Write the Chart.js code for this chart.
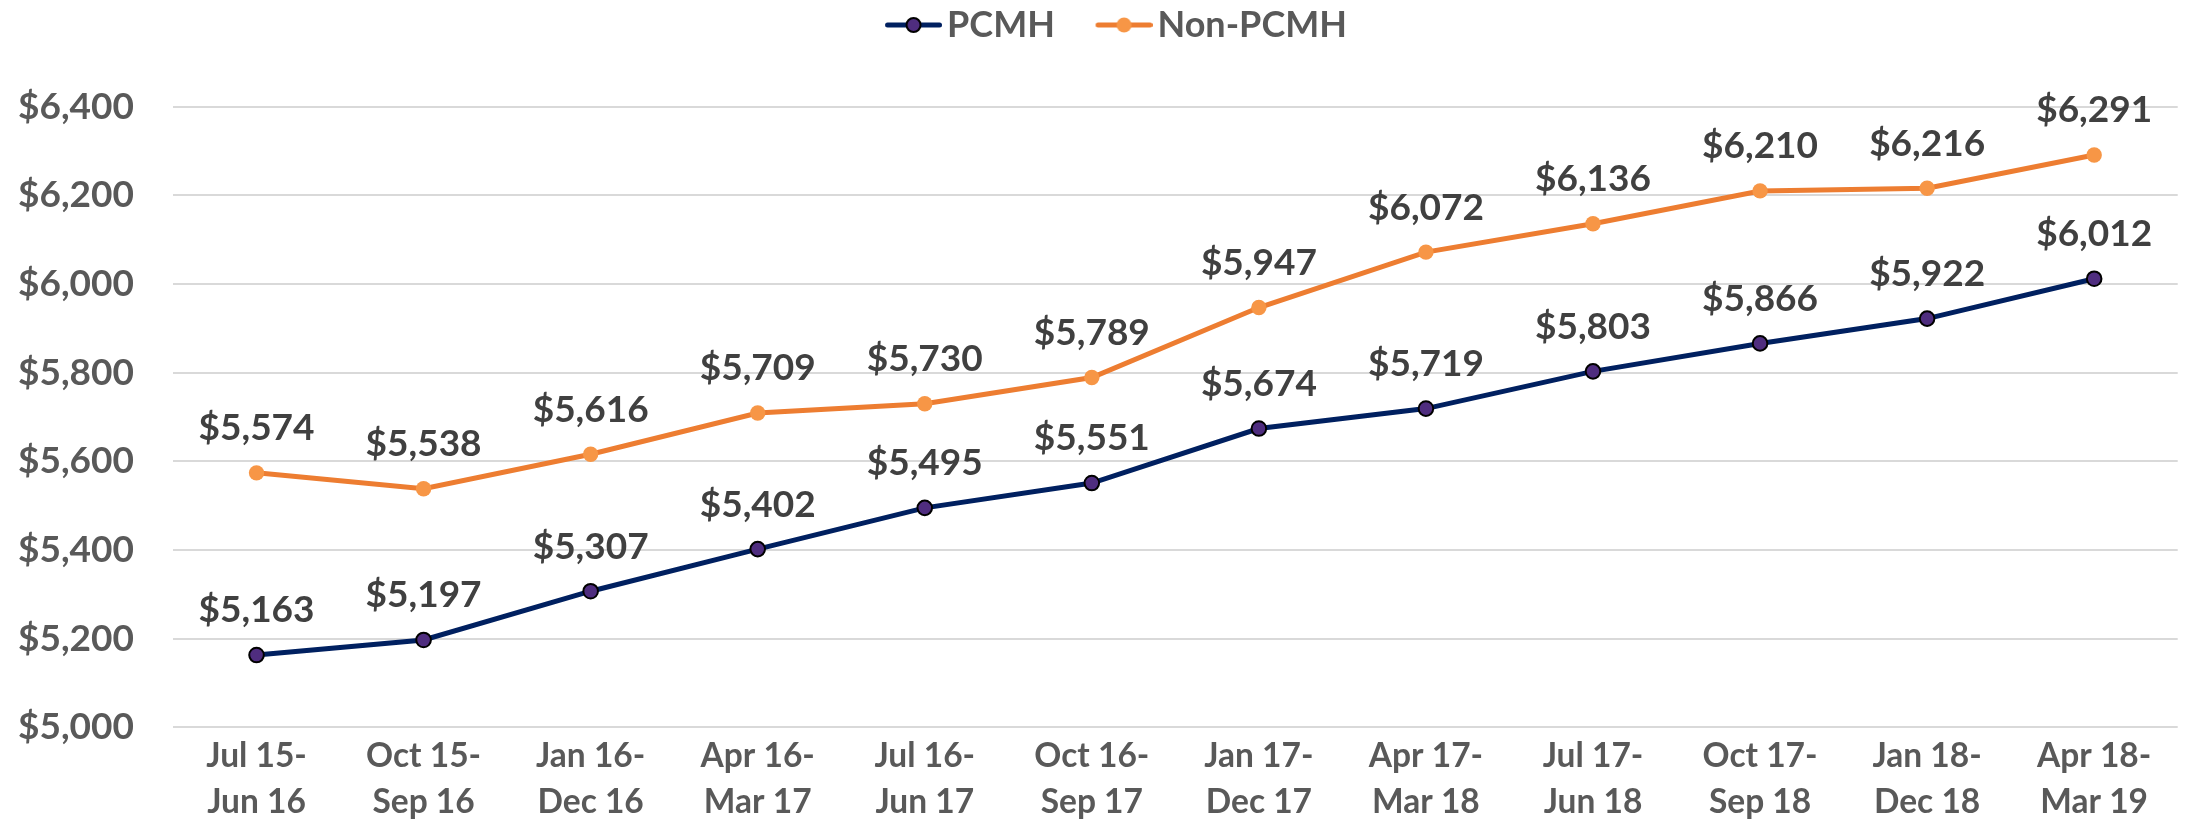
<!DOCTYPE html>
<html>
<head>
<meta charset="utf-8">
<script src="https://cdn.jsdelivr.net/npm/chart.js@4.4.1/dist/chart.umd.min.js"></script>
<style>
  html, body { margin: 0; padding: 0; background: #ffffff; overflow: hidden; }
  #wrap { width: 2187px; height: 820px; }
</style>
</head>
<body>
<div id="wrap"><canvas id="c" width="2187" height="820"></canvas></div>
<script>
const categories = [
  ["Jul 15-", "Jun 16"], ["Oct 15-", "Sep 16"], ["Jan 16-", "Dec 16"], ["Apr 16-", "Mar 17"],
  ["Jul 16-", "Jun 17"], ["Oct 16-", "Sep 17"], ["Jan 17-", "Dec 17"], ["Apr 17-", "Mar 18"],
  ["Jul 17-", "Jun 18"], ["Oct 17-", "Sep 18"], ["Jan 18-", "Dec 18"], ["Apr 18-", "Mar 19"]
];
const seriesNames = ["PCMH", "Non-PCMH"];
const pcmhValues = [5163, 5197, 5307, 5402, 5495, 5551, 5674, 5719, 5803, 5866, 5922, 6012];
const nonPcmhValues = [5574, 5538, 5616, 5709, 5730, 5789, 5947, 6072, 6136, 6210, 6216, 6291];
const yTickValues = [5000, 5200, 5400, 5600, 5800, 6000, 6200, 6400];

const FONT = "Lato";
const fmt = v => "$" + Math.round(v).toLocaleString("en-US");

function makeMarker(lineColor, fillColor, borderColor, borderWidth, r) {
  const cv = document.createElement("canvas");
  cv.width = 97; cv.height = 20;
  const g = cv.getContext("2d");
  g.strokeStyle = lineColor; g.lineWidth = 5; g.lineCap = "round";
  g.beginPath(); g.moveTo(42.5, 10); g.lineTo(94.5, 10); g.stroke();
  g.beginPath(); g.arc(68.5, 10, r, 0, Math.PI * 2);
  g.fillStyle = fillColor; g.fill();
  if (borderWidth > 0) { g.lineWidth = borderWidth; g.strokeStyle = borderColor; g.stroke(); }
  return cv;
}

const legendSpacer = {
  id: "legendSpacer",
  beforeLayout(chart) {
    const lg = chart.legend;
    if (lg && !lg._spacerPatched) {
      const orig = lg.fit;
      lg.fit = function () { orig.call(this); this.height += 53.7; };
      lg._spacerPatched = true;
    }
  }
};

const dataLabels = {
  id: "dataLabels",
  afterDatasetsDraw(chart) {
    const ctx = chart.ctx;
    ctx.save();
    ctx.font = "bold 37px " + FONT;
    ctx.fillStyle = "#404040";
    ctx.textAlign = "center";
    ctx.textBaseline = "middle";
    chart.data.datasets.forEach((ds, i) => {
      const meta = chart.getDatasetMeta(i);
      meta.data.forEach((pt, j) => {
        ctx.fillText(fmt(ds.data[j]), pt.x, pt.y - 44.5);
      });
    });
    ctx.restore();
  }
};

function draw() {
  const markers = [
    makeMarker("#002060", "#4F2D7F", "#000000", 2, 7),
    makeMarker("#ED7D31", "#F79646", "#F79646", 0, 7.5)
  ];
  new Chart(document.getElementById("c"), {
    type: "line",
    data: {
      labels: categories,
      datasets: [
        {
          label: seriesNames[0], data: pcmhValues,
          borderColor: "#002060", borderWidth: 5,
          pointBackgroundColor: "#4F2D7F", pointBorderColor: "#000000",
          pointBorderWidth: 2, pointRadius: 7.3, tension: 0
        },
        {
          label: seriesNames[1], data: nonPcmhValues,
          borderColor: "#ED7D31", borderWidth: 5,
          pointBackgroundColor: "#F79646", pointBorderColor: "#F79646",
          pointBorderWidth: 0, pointRadius: 7.7, tension: 0
        }
      ]
    },
    options: {
      responsive: false,
      animation: false,
      devicePixelRatio: 1,
      layout: { padding: { top: -6.6, right: -18, left: 0, bottom: 0 } },
      plugins: {
        tooltip: { enabled: false },
        legend: {
          position: "top",
          align: "center",
          labels: {
            usePointStyle: true,
            pointStyleWidth: 71,
            boxHeight: 36,
            padding: 13.6,
            color: "#595959",
            font: { family: FONT, weight: "bold", size: 36 },
            generateLabels(chart) {
              return chart.data.datasets.map((ds, i) => ({
                text: ds.label,
                pointStyle: markers[i],
                fillStyle: ds.borderColor,
                strokeStyle: ds.borderColor,
                lineWidth: 0,
                hidden: false,
                datasetIndex: i,
                fontColor: "#595959"
              }));
            }
          }
        }
      },
      scales: {
        x: {
          offset: true,
          grid: { display: false, drawTicks: false },
          border: { display: false },
          ticks: {
            autoSkip: false, maxRotation: 0, minRotation: 0, padding: 6,
            color: "#595959",
            font: { family: FONT, weight: "bold", size: 33.5, lineHeight: 1.38 }
          },
          afterFit(s) { s.height = 92.7; }
        },
        y: {
          min: 5000, max: 6400,
          grid: { color: "#D9D9D9", lineWidth: 2, drawTicks: false },
          border: { display: false },
          afterBuildTicks(s) { s.ticks = yTickValues.map(v => ({ value: v })); },
          ticks: {
            padding: 39,
            color: "#595959",
            font: { family: FONT, weight: "bold", size: 37 },
            callback: v => fmt(v)
          },
          afterFit(s) { s.width = 173; }
        }
      }
    },
    plugins: [legendSpacer, dataLabels]
  });
}

if (document.fonts && document.fonts.load) {
  Promise.all([document.fonts.load("bold 36px Lato")]).then(draw, draw);
} else { draw(); }
</script>
</body>
</html>
